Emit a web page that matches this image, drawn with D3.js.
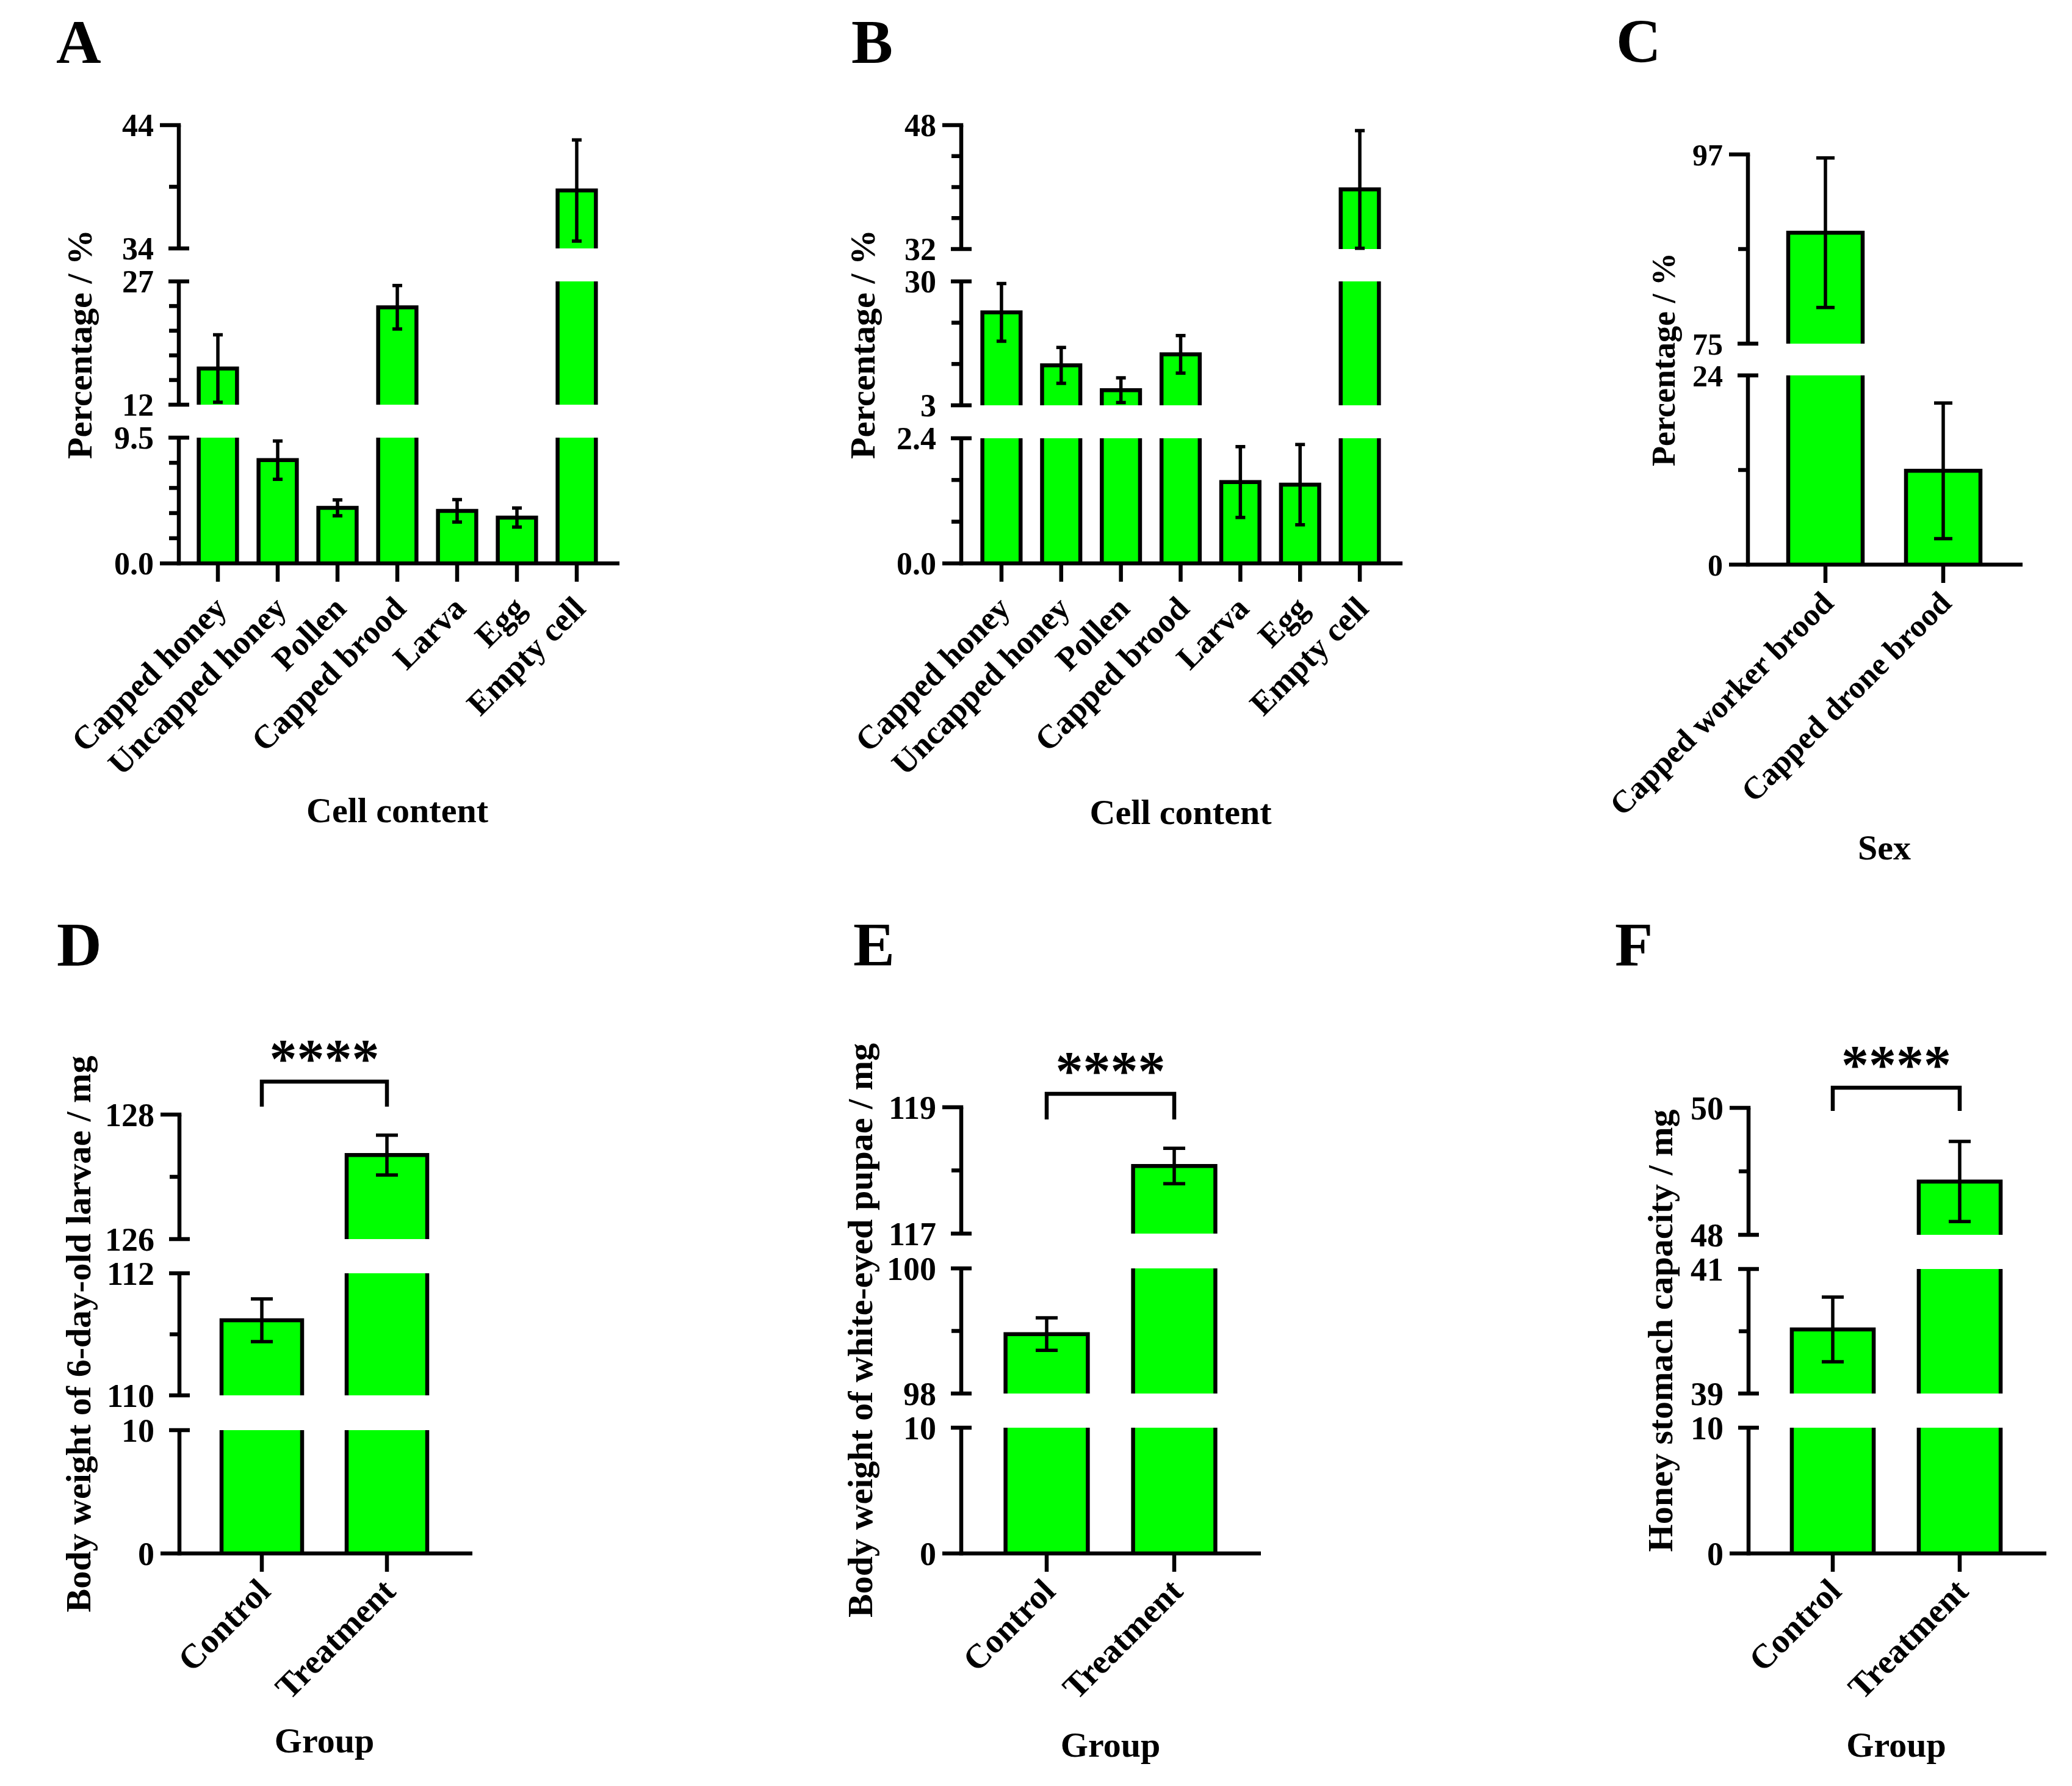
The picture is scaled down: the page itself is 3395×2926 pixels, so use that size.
<!DOCTYPE html>
<html>
<head>
<meta charset="utf-8">
<script src="https://cdn.jsdelivr.net/npm/d3@7"></script>
<style>
  body { margin: 0; background: #fff; }
  text { font-family: "Liberation Serif", "Times New Roman", serif; font-weight: bold; fill: #000; }
</style>
</head>
<body>
<script>
// ---- data ----
const cellCats = ['Capped honey', 'Uncapped honey', 'Pollen', 'Capped brood', 'Larva', 'Egg', 'Empty cell']
const aMeans = [16.4, 7.8, 4.2, 23.85, 3.97, 3.46, 38.7]
const aErrs = [4.1, 1.45, 0.6, 2.65, 0.85, 0.72, 4.1]
const bMeans = [23.25, 11.7, 6.3, 14.1, 1.56, 1.51, 39.7]
const bErrs = [6.3, 3.9, 2.7, 4.1, 0.68, 0.77, 7.6]

const sexCats = ['Capped worker brood', 'Capped drone brood']
const cMeans = [87.9, 11.9]
const cErrs = [8.7, 8.6]

const groupCats = ['Control', 'Treatment']
const dMeans = [111.23, 127.35]
const dErrs = [0.35, 0.32]
const eMeans = [98.95, 118.07]
const eErrs = [0.26, 0.28]
const fMeans = [40.03, 48.84]
const fErrs = [0.52, 0.63]

// broken y axes, bottom piece first
const aBreaks = [[0, 9.5], [12, 27], [34, 44]]
const bBreaks = [[0, 2.4], [3, 30], [32, 48]]
const cBreaks = [[0, 24], [75, 97]]
const dBreaks = [[0, 10], [110, 112], [126, 128]]
const eBreaks = [[0, 10], [98, 100], [117, 119]]
const fBreaks = [[0, 10], [39, 41], [48, 50]]

const aTickLabels = ['0.0', '9.5', '12', '27', '34', '44']
const bTickLabels = ['0.0', '2.4', '3', '30', '32', '48']
const cTickLabels = ['0', '24', '75', '97']
const dTickLabels = ['0', '10', '110', '112', '126', '128']
const eTickLabels = ['0', '10', '98', '100', '117', '119']
const fTickLabels = ['0', '10', '39', '41', '48', '50']

const aMinor = [[1.9, 3.8, 5.7, 7.6], [15, 18, 21, 24], [39]]
const bMinor = [[0.8, 1.6], [12, 21], [36, 40, 44]]
const cMinor = [[12], [86]]
const dMinor = [[], [111], [127]]
const eMinor = [[], [99], [118]]
const fMinor = [[], [40], [49]]

const sig = '****'

const svg = d3.select('body').append('svg')
    .attr('width', 3395)
    .attr('height', 2926)

const green = '#00ff00'
const lw = 6.5

const panels = [
  {letter: 'A', lx: 92, ly: 103, axisX: 293, segPx: [[923, 717], [663, 461], [407, 205]],
   breaks: aBreaks, labels: aTickLabels, minor: aMinor, cats: cellCats, means: aMeans, errs: aErrs,
   xRange: [308, 994], pad: 0.36, xEnd: 1015, cap: 8, tickSize: 52, catSize: 54, catDx: 17, catDy: 77,
   yTitle: 'Percentage / %', titleX: 130, titleSize: 58, xTitle: 'Cell content', xTitleY: 1347},
  {letter: 'B', lx: 1395, ly: 103, axisX: 1575, segPx: [[923, 718], [664, 461], [408, 205]],
   breaks: bBreaks, labels: bTickLabels, minor: bMinor, cats: cellCats, means: bMeans, errs: bErrs,
   xRange: [1592, 2277], pad: 0.36, xEnd: 2298, cap: 8, tickSize: 52, catSize: 54, catDx: 17, catDy: 77,
   yTitle: 'Percentage / %', titleX: 1413, titleSize: 58, xTitle: 'Cell content', xTitleY: 1350},
  {letter: 'C', lx: 2648, ly: 102, axisX: 2864, segPx: [[925, 615], [563, 253]],
   breaks: cBreaks, labels: cTickLabels, minor: cMinor, cats: sexCats, means: cMeans, errs: cErrs,
   xRange: [2894.5, 3280.5], pad: 0.368, xEnd: 3314, cap: 15, tickSize: 50, catSize: 52, catDx: 16, catDy: 66,
   yTitle: 'Percentage / %', titleX: 2725, titleSize: 54, xTitle: 'Sex', xTitleY: 1408},
  {letter: 'D', lx: 93, ly: 1582, axisX: 294, segPx: [[2545, 2343], [2286, 2086], [2030, 1826]],
   breaks: dBreaks, labels: dTickLabels, minor: dMinor, cats: groupCats, means: dMeans, errs: dErrs,
   xRange: [326.5, 736.5], pad: 0.356, xEnd: 774, cap: 18, tickSize: 54, catSize: 56, catDx: 17, catDy: 65,
   yTitle: 'Body weight of 6-day-old larvae / mg', titleX: 128, titleSize: 58, xTitle: 'Group', xTitleY: 2871,
   bracketY: 1772, legY: 1813},
  {letter: 'E', lx: 1398, ly: 1582, axisX: 1575, segPx: [[2545, 2339], [2283, 2078], [2021, 1814]],
   breaks: eBreaks, labels: eTickLabels, minor: eMinor, cats: groupCats, means: eMeans, errs: eErrs,
   xRange: [1610.5, 2028.5], pad: 0.355, xEnd: 2066, cap: 18, tickSize: 54, catSize: 56, catDx: 17, catDy: 65,
   yTitle: 'Body weight of white-eyed pupae / mg', titleX: 1409, titleSize: 58, xTitle: 'Group', xTitleY: 2878,
   bracketY: 1792, legY: 1834},
  {letter: 'F', lx: 2646, ly: 1582, axisX: 2865, segPx: [[2545, 2339], [2283, 2079], [2023, 1815]],
   breaks: fBreaks, labels: fTickLabels, minor: fMinor, cats: groupCats, means: fMeans, errs: fErrs,
   xRange: [2899, 3315], pad: 0.355, xEnd: 3353, cap: 18, tickSize: 54, catSize: 56, catDx: 17, catDy: 65,
   yTitle: 'Honey stomach capacity / mg', titleX: 2720, titleSize: 58, xTitle: 'Group', xTitleY: 2878,
   bracketY: 1782, legY: 1820}
]

function drawPanel(p) {
  const g = svg.append('g')
  const segs = p.breaks.map((b, i) => ({lo: b[0], hi: b[1], minor: p.minor[i],
    y: d3.scaleLinear().domain(b).range(p.segPx[i])}))
  const x = d3.scaleBand().domain(p.cats).range(p.xRange)
      .paddingInner(p.pad).paddingOuter(p.pad / 2)
  const bw = x.bandwidth()
  const baseY = segs[0].y(0)
  const last = segs.length - 1

  // bar pieces, one per axis segment the bar reaches into
  const pieces = []
  segs.forEach((s, si) => {
    p.cats.forEach((c, i) => {
      const m = p.means[i]
      if (m <= s.lo) return
      pieces.push({c, yb: s.y(s.lo), yt: s.y(Math.min(m, s.hi)), closed: m <= s.hi})
    })
  })
  g.selectAll('rect.bar').data(pieces).enter().append('rect')
      .attr('class', 'bar')
      .attr('x', d => x(d.c))
      .attr('y', d => d.yt)
      .attr('width', bw)
      .attr('height', d => d.yb - d.yt)
      .attr('fill', green)
  g.selectAll('path.edge').data(pieces).enter().append('path')
      .attr('class', 'edge')
      .attr('fill', 'none')
      .attr('stroke', '#000')
      .attr('stroke-width', lw)
      .attr('d', d => {
        const x0 = x(d.c), x1 = x0 + bw
        return d.closed
          ? `M${x0},${d.yb}V${d.yt}H${x1}V${d.yb}`
          : `M${x0},${d.yb}V${d.yt}M${x1},${d.yt}V${d.yb}`
      })

  // error bars
  const errs = p.cats.map((c, i) => {
    const m = p.means[i], e = p.errs[i]
    const s = segs.find(s => m > s.lo && m <= s.hi)
    const lo = Math.max(m - e, s.lo), hi = Math.min(m + e, s.hi)
    return {cx: x(c) + bw / 2, y1: s.y(lo), y2: s.y(hi)}
  })
  g.selectAll('path.err').data(errs).enter().append('path')
      .attr('class', 'err')
      .attr('fill', 'none')
      .attr('stroke', '#000')
      .attr('stroke-width', 5.5)
      .attr('d', d => `M${d.cx},${d.y1}V${d.y2}M${d.cx - p.cap},${d.y1}H${d.cx + p.cap}M${d.cx - p.cap},${d.y2}H${d.cx + p.cap}`)

  // y axis pieces
  const ax = p.axisX
  segs.forEach((s, si) => {
    g.append('line').attr('x1', ax).attr('x2', ax)
        .attr('y1', s.y(s.lo) + (si === 0 ? lw / 2 : 0)).attr('y2', s.y(s.hi))
        .attr('stroke', '#000').attr('stroke-width', lw)
    const ends = []
    if (si > 0) ends.push({v: s.lo, kind: 'break'})
    ends.push({v: s.hi, kind: si === last ? 'top' : 'break'})
    ends.forEach(t => {
      const yy = s.y(t.v)
      g.append('line')
          .attr('x1', t.kind === 'top' ? ax - 31 : ax - 17)
          .attr('x2', t.kind === 'top' ? ax + lw / 2 : ax + 17)
          .attr('y1', yy).attr('y2', yy)
          .attr('stroke', '#000').attr('stroke-width', lw)
    })
    s.minor.forEach(v => {
      g.append('line').attr('x1', ax - 16).attr('x2', ax)
          .attr('y1', s.y(v)).attr('y2', s.y(v))
          .attr('stroke', '#000').attr('stroke-width', lw)
    })
  })
  const tickVals = p.breaks.flat()
  const tickY = p.breaks.flatMap((b, i) => b.map(v => segs[i].y(v)))
  g.selectAll('text.ytick').data(tickVals).enter().append('text')
      .attr('class', 'ytick')
      .attr('x', ax - 41)
      .attr('y', (d, i) => tickY[i])
      .attr('dy', '0.35em')
      .attr('text-anchor', 'end')
      .style('font-size', p.tickSize + 'px')
      .text((d, i) => p.labels[i])

  // x axis
  g.append('line').attr('x1', ax - 31).attr('x2', p.xEnd)
      .attr('y1', baseY).attr('y2', baseY)
      .attr('stroke', '#000').attr('stroke-width', lw)
  g.selectAll('line.xtick').data(p.cats).enter().append('line')
      .attr('class', 'xtick')
      .attr('x1', d => x(d) + bw / 2).attr('x2', d => x(d) + bw / 2)
      .attr('y1', baseY).attr('y2', baseY + 30)
      .attr('stroke', '#000').attr('stroke-width', lw)
  g.selectAll('text.xlab').data(p.cats).enter().append('text')
      .attr('class', 'xlab')
      .attr('transform', d => `translate(${x(d) + bw / 2 + p.catDx},${baseY + p.catDy}) rotate(-45)`)
      .attr('text-anchor', 'end')
      .style('font-size', p.catSize + 'px')
      .text(d => d)

  // titles
  const yMid = (segs[0].y(segs[0].lo) + segs[last].y(segs[last].hi)) / 2
  g.append('text')
      .attr('transform', `translate(${p.titleX},${yMid}) rotate(-90)`)
      .attr('dy', '0.35em')
      .attr('text-anchor', 'middle')
      .style('font-size', p.titleSize + 'px')
      .text(p.yTitle)
  const xMid = (x(p.cats[0]) + x(p.cats[p.cats.length - 1]) + bw) / 2
  g.append('text')
      .attr('x', xMid).attr('y', p.xTitleY)
      .attr('text-anchor', 'middle')
      .style('font-size', '58px')
      .text(p.xTitle)
  g.append('text')
      .attr('x', p.lx).attr('y', p.ly)
      .style('font-size', '102px')
      .text(p.letter)

  // significance bracket
  if (p.bracketY) {
    const c0 = x(p.cats[0]) + bw / 2, c1 = x(p.cats[1]) + bw / 2
    g.append('path')
        .attr('fill', 'none').attr('stroke', '#000').attr('stroke-width', lw)
        .attr('d', `M${c0},${p.legY}V${p.bracketY}H${c1}V${p.legY}`)
    g.append('text')
        .attr('x', (c0 + c1) / 2).attr('y', p.bracketY - 7)
        .attr('text-anchor', 'middle')
        .style('font-size', '90px')
        .text(sig)
  }
}

panels.forEach(drawPanel)
</script>
</body>
</html>
